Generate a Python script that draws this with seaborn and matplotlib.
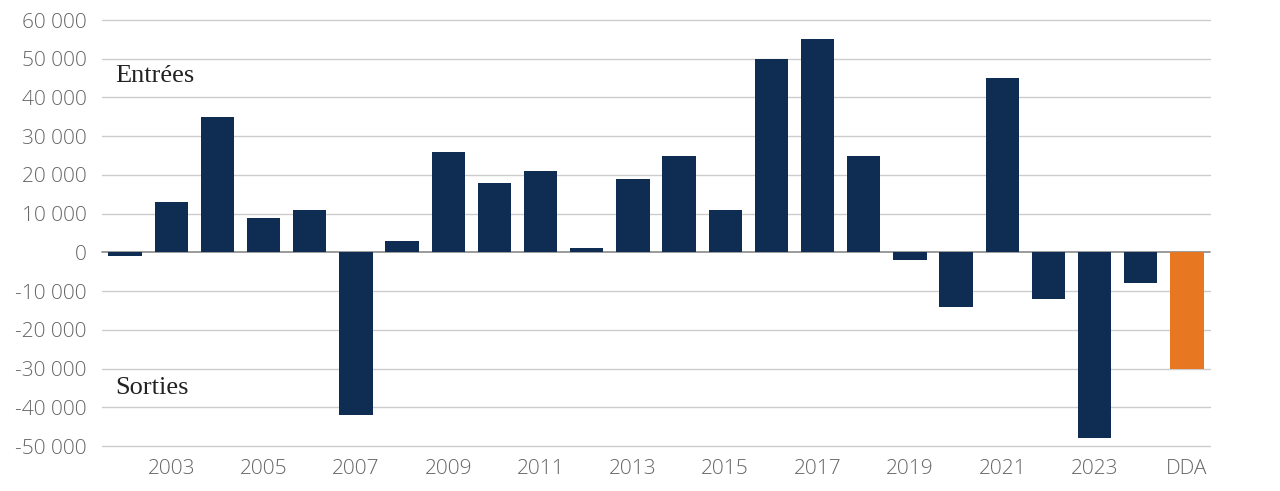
import matplotlib
matplotlib.use("Agg")
import matplotlib.pyplot as plt
import seaborn as sns
import pandas as pd

categories = [str(y) for y in range(2002, 2025)] + ["DDA"]
values = [-1000, 13000, 35000, 9000, 11000, -42000, 3000, 26000, 18000, 21000,
          1000, 19000, 25000, 11000, 50000, 55000, 25000, -2000, -14000, 45000,
          -12000, -48000, -8000, -30000]
bar_colors = ["#0f2d52"] * 23 + ["#e87722"]
y_ticks = list(range(-50000, 60001, 10000))
x_tick_labels = ["2003", "2005", "2007", "2009", "2011", "2013", "2015", "2017",
                 "2019", "2021", "2023", "DDA"]

df = pd.DataFrame({"cat": categories, "val": values})

sns.set_theme(style="white")
plt.rcParams["font.family"] = ["Open Sans", "DejaVu Sans"]

fig = plt.figure(figsize=(12.8, 4.91), dpi=100)
ax = fig.add_axes([102/1280, 1-446/491, (1210-102)/1280, (446-20)/491])

for t in y_ticks:
    ax.axhline(t, color="#8a8a8a" if t == 0 else "#cccccc", lw=1.2 if t == 0 else 1.0,
               zorder=0 if t != 0 else 1, clip_on=False)

sns.barplot(data=df, x="cat", y="val", hue="cat", palette=bar_colors, legend=False,
            width=0.72, saturation=1, linewidth=0, ax=ax, zorder=2)

ax.set_xlim(-0.5, len(categories) - 0.5)
ax.set_ylim(-50000, 60000)
ax.set_yticks(y_ticks)
ax.set_yticklabels([f"{v:,}".replace(",", " ") for v in y_ticks],
                   fontsize=15, color="#666666", fontweight="light")
pos = [categories.index(l) for l in x_tick_labels]
ax.set_xticks(pos)
ax.set_xticklabels(x_tick_labels, fontsize=15, color="#666666", fontweight="light")
ax.tick_params(axis="both", length=0)
ax.tick_params(axis="y", pad=11)
ax.tick_params(axis="x", pad=9)
ax.set_xlabel("")
ax.set_ylabel("")
for s in ax.spines.values():
    s.set_visible(False)

ax.text(0.012, 45500, "Entrées", fontsize=19, family="Liberation Serif", color="#222222",
        ha="left", va="center", transform=ax.get_yaxis_transform())
ax.text(0.012, -35000, "Sorties", fontsize=19, family="Liberation Serif", color="#222222",
        ha="left", va="center", transform=ax.get_yaxis_transform())

fig.savefig("out.png", dpi=100)
